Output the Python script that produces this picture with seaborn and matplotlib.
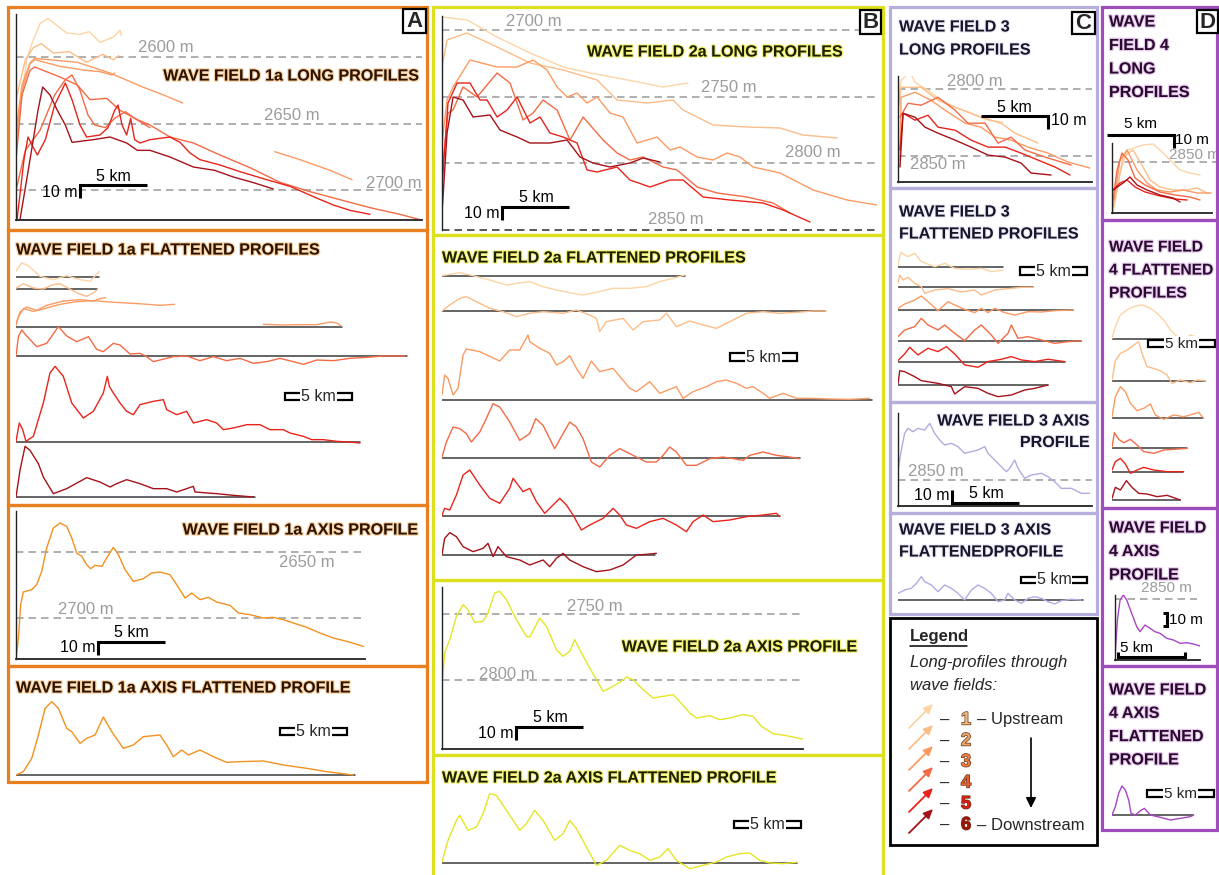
import numpy as np
import matplotlib
matplotlib.use("Agg")
import matplotlib.pyplot as plt
import matplotlib.patheffects as pe
from matplotlib.patches import Rectangle
import seaborn as sns

# ------------------------------------------------------------------ data
# colour rank of a long-profile: 0 = most upstream ... 5 = most downstream
RANK_COLORS = ["#FDD4A4", "#FCBD88", "#FB9B63", "#F46A45", "#E8241C", "#A6121A"]
NUMBER_COLORS = ["#E9BC80", "#EBA56A", "#E9824A", "#E25E33", "#D81E16", "#A3130F"]

# Wave field 1a - long profiles (distance km, depth m)
wf1a_long_rank = [0, 1, 2, 2, 2, 3, 3, 4, 5]
wf1a_long_km = [
    [0, 0.3, 0.8, 1.3, 1.8, 2.4, 2.9, 3.8, 4.8, 5.5, 6.3, 7.3, 7.8, 7.9],
    [0, 0.7, 1.3, 1.9, 2.8, 4.0, 5.3, 6.5, 7.3, 7.7],
    [0, 0.45, 1.05, 1.4, 4.6, 7.05, 9.5, 11.2, 12.5],
    [19.4, 21.3, 23.55, 25.2],
    [0, 0.45, 1.05, 1.4, 3.3, 5.2, 6.3, 7.2, 7.4],
    [0, 0.45, 1.05, 1.4, 3.3, 4.6, 5.55, 6.8, 7.8, 9.1, 10.05, 11.55, 13.3, 15.3,
     17.55, 19.8, 22.05, 24.3, 26.55, 28.8, 30.3],
    [0, 0.7, 1.8, 2.9, 3.7, 4.2, 4.8, 5.4, 5.9, 6.7, 7.4, 8.2, 8.9, 10.05],
    [0.08, 0.6, 0.9, 1.2, 1.6, 2.2, 2.9, 3.7, 4.2, 4.8, 5.3, 6.3, 6.9, 7.4, 7.65, 7.95,
     8.3, 8.6, 8.9, 9.3, 10.05, 10.8, 11.55, 12.3, 13.05, 13.8, 15.3, 16.8, 18.8, 20.55,
     22.6, 23.8, 25.05, 26.55],
    [0.3, 1.05, 1.65, 2.0, 2.55, 3.1, 3.7, 4.2, 5.8, 7.05, 8.3, 9.1, 10.05, 11.55, 13.3,
     14.9, 16.3, 17.9, 19.3],
]
wf1a_long_depth = [
    [2668, 2640, 2602, 2587, 2575, 2571, 2575, 2582, 2583, 2581, 2589, 2585, 2580, 2584],
    [2632, 2602, 2593, 2590, 2597, 2596, 2604, 2598, 2602, 2599],
    [2655, 2621, 2604.5, 2601, 2604, 2612, 2622.5, 2629, 2634.5],
    [2671, 2677, 2685, 2692],
    [2662, 2625, 2605, 2602, 2607, 2610, 2611, 2613.5, 2612],
    [2677, 2628.5, 2610, 2607.5, 2615, 2621, 2632, 2631, 2640, 2647, 2651, 2660, 2664.5,
     2673.5, 2683, 2694, 2701, 2707, 2713, 2718, 2722],
    [2700, 2670, 2655, 2628.5, 2617, 2613.5, 2625, 2643.5, 2651, 2653, 2646, 2641, 2646, 2653],
    [2722, 2677, 2660, 2666, 2673.5, 2662, 2636, 2619.5, 2632, 2651, 2660, 2658.5, 2653,
     2640, 2636, 2651, 2658.5, 2646, 2662, 2664.5, 2662, 2661, 2660, 2664, 2672, 2677,
     2681, 2686, 2692, 2697, 2706, 2711, 2715, 2718],
    [2722, 2677, 2640, 2622.5, 2628.5, 2640, 2651, 2664, 2662, 2660, 2664.5, 2670, 2670,
     2675, 2682.5, 2685, 2690, 2694.5, 2699],
]

# Wave field 1a - flattened profiles (distance km, relief m about the trend line)
wf1a_flat_rank = [0, 1, 2, 2, 2, 3, 4, 5]
wf1a_flat_row = [0, 1, 2, 2, 2, 3, 4, 5]
wf1a_flat_len_km = [6.2, 6.05, 24.45, 29.3, 25.8, 17.9]
wf1a_flat_km = [
    [0, 0.43, 0.93, 1.8, 2.8, 3.8, 4.8, 5.55, 5.9, 6.25],
    [0, 0.55, 1.3, 2.05, 2.7, 3.3, 3.9, 4.7, 5.3, 5.8, 6.1],
    [0, 0.18, 0.55, 1.3, 2.05, 3.3, 4.55, 5.8, 7.05, 8.3, 9.55, 10.8, 11.9],
    [18.55, 20.05, 21.3, 22.55, 23.55, 24.05, 24.4],
    [0, 0.3, 0.8, 1.55, 2.3, 3.55, 4.8, 5.8, 6.3, 6.7],
    [0, 0.18, 0.43, 0.8, 1.55, 2.3, 3.18, 3.8, 4.55, 5.43, 6.05, 6.55, 7.3, 7.8, 8.55, 9.3,
     9.8, 10.3, 10.8, 11.8, 12.8, 13.8, 14.8, 15.8, 16.8, 17.8, 18.8, 19.8, 20.8, 21.55,
     22.55, 23.8, 25.05, 26.3, 27.55, 29.2],
    [0, 0.25, 0.5, 0.75, 1.3, 2.05, 2.55, 2.93, 3.55, 4.18, 5.05, 5.8, 6.55, 6.85, 7.0,
     7.3, 7.8, 8.3, 8.8, 9.3, 9.8, 10.3, 11.05, 11.3, 12.05, 12.8, 13.3, 14.3, 15.05,
     15.55, 16.3, 17.3, 18.3, 19.05, 20.05, 20.55, 21.55, 22.18, 23.05, 24.05, 24.93, 25.8],
    [0, 0.3, 0.68, 1.05, 1.68, 2.05, 2.8, 3.8, 5.3, 6.3, 7.05, 7.55, 8.3, 9.3, 10.3, 11.3,
     12.05, 12.8, 13.3, 13.43, 15.05, 16.3, 17.8],
]
wf1a_flat_relief = [
    [4.25, 10.5, 8.5, 0.5, -2, 1, -2, -3.25, 0.5, 4.25],
    [0.5, 4, 0.75, 0, 3, 4, 0.75, -3.5, -5.5, -3, -0.5],
    [1.25, 7.5, 13.75, 11.75, 13.5, 17, 19, 19.75, 18.75, 18, 17.25, 16.25, 17],
    [2, 1.5, 1.75, 1.75, 3.75, 3, 0.75],
    [2.5, 11.25, 15, 12.5, 16.25, 19.5, 20.5, 19.5, 21.25, 22],
    [0, 14.5, 19.5, 15, 7, 9.5, 22, 15, 10.75, 14.5, 5, 3.25, 9.5, 8.25, 1.5, 2, -0.5,
     -4.25, -3, -0.5, 0, -3.5, -0.5, -3.5, -1.75, -5.5, -4.25, -1.75, -4.25, -6.25, -3,
     -3.5, -1.75, -1, 0, 0],
    [0.5, 14.25, 9.25, 0.5, 4.25, 29.25, 51.75, 56.75, 49.25, 29.25, 18, 23, 36.75, 49.25,
     41.75, 36.75, 29.25, 23, 20.5, 28, 29.25, 30.5, 31.75, 24.25, 20.5, 23, 14.25, 16.75,
     14.25, 9.25, 10.5, 13, 13, 9.25, 9.25, 6.75, 4.25, 1.75, 1.75, 0.5, 0, -0.75],
    [0, 20, 38, 35, 25, 15, 2.5, 6.25, 14.5, 11.25, 7.5, 10, 13, 10, 6.25, 6.25, 3.75,
     6.25, 8, 3.75, 2.5, 1.25, 0],
]

# Wave field 1a - axis profile and its flattened version
wf1a_axis_km = [0, 0.18, 0.35, 0.55, 1.18, 1.55, 1.93, 2.3, 2.8, 3.3, 3.8, 4.18, 4.55, 4.93,
                5.3, 5.6, 5.93, 6.43, 6.8, 7.3, 7.68, 8.18, 8.8, 9.55, 10.18, 10.8, 11.55,
                12.05, 12.68, 13.18, 13.8, 14.43, 15.05, 16.05, 16.68, 17.55, 18.55, 19.3,
                20.05, 20.8, 21.8, 22.8, 23.8, 24.8, 26.05]
wf1a_axis_depth = [2730.5, 2714.75, 2689.75, 2680.25, 2678.5, 2674.75, 2664.75, 2647.25,
                   2632.25, 2628.5, 2631, 2639.75, 2651, 2653.5, 2659.75, 2662.75, 2660.25,
                   2661, 2654.75, 2646.75, 2652.25, 2663.5, 2672.25, 2670.25, 2666, 2665.25,
                   2667.25, 2674.75, 2684.75, 2681, 2686, 2684.25, 2687.75, 2690.25, 2696,
                   2697.25, 2699.75, 2699.25, 2701, 2703.5, 2706.75, 2711, 2714.75, 2717.25,
                   2721]
wf1a_axis_flat_km = [0, 0.55, 1.18, 1.68, 2.18, 2.68, 3.18, 3.8, 4.18, 4.8, 5.3, 5.93, 6.55,
                     7.18, 8.05, 8.8, 9.55, 10.8, 11.3, 11.8, 12.43, 12.93, 13.8, 14.8, 15.8,
                     16.8, 18.55, 20.05, 21.8, 23.3, 25.3]
wf1a_axis_flat_relief = [0, 2.5, 12.5, 30, 50, 55, 50, 35, 32.5, 23.75, 27.5, 30, 43.5, 32.5,
                         20, 22.5, 28.75, 30, 22.5, 13.75, 18.75, 15, 18.75, 13.75, 9.5, 10,
                         10.5, 7.5, 5, 2.5, 0]

# Wave field 2a - long profiles
wf2a_long_rank = [0, 1, 2, 3, 4, 5]
wf2a_long_km = [
    [0, 1.88, 4.13, 6.6, 9.08, 11.1, 13.13, 15.08, 16.58, 18.45],
    [0, 0.38, 1.88, 4.13, 6.6, 9.08, 11.63, 13.13, 15.38, 17.33, 18.08, 20.33, 22.88, 25.35,
     27.08, 29.63],
    [0, 0.38, 0.83, 2.1, 4.13, 5.63, 6.83, 7.88, 8.63, 9.38, 10.13, 10.88, 11.63, 12.6,
     13.58, 14.63, 16.13, 17.1, 17.85, 19.13, 20.33, 21.38, 22.35, 23.33, 25.35, 27.83,
     30.38, 32.63],
    [0, 0.45, 0.83, 1.58, 2.63, 4.13, 5.1, 6.08, 6.83, 7.58, 8.63, 9.6, 10.58, 12.08, 13.13,
     14.1, 15.08, 16.58, 17.63, 19.13, 20.63, 22.88, 24.83, 26.1],
    [0, 0.45, 1.13, 2.1, 2.85, 3.38, 4.13, 4.88, 5.63, 6.6, 7.35, 8.1, 9.08, 10.13, 10.88,
     11.63, 13.13, 14.1, 15.6, 17.1, 18.08, 19.58, 21.6, 24.08, 25.58, 27.6],
    [0, 0.38, 0.83, 1.58, 2.33, 3.6, 4.35, 5.63, 6.6, 8.1, 9.38, 10.35, 11.33, 12.6, 14.1,
     15.08, 16.35],
]
wf2a_long_depth = [
    [2690.25, 2692.5, 2705.25, 2717.25, 2727.75, 2732.25, 2736, 2739.75, 2742.75, 2739.75],
    [2727.75, 2707.5, 2702.25, 2712.75, 2724.75, 2730, 2737.5, 2752.5, 2754.75, 2752.5,
     2760, 2771.25, 2772.75, 2773.5, 2778.75, 2781],
    [2784.75, 2752.5, 2742.75, 2722.5, 2727.75, 2727.75, 2722.5, 2730, 2742.75, 2750.25,
     2747.25, 2754.75, 2750.25, 2762.25, 2765.25, 2784.75, 2780.25, 2790, 2787.75, 2795.25,
     2797.5, 2792.25, 2795.25, 2802.75, 2807.25, 2820, 2827.5, 2831.25],
    [2807.25, 2762.25, 2760, 2742.75, 2750.25, 2732.25, 2739.75, 2767.5, 2762.25, 2752.5,
     2760, 2782.5, 2765.25, 2782.5, 2792.25, 2797.5, 2795.25, 2802.75, 2805, 2817.75,
     2822.25, 2825.25, 2829.75, 2837.25],
    [2817.75, 2754.75, 2739.75, 2739.75, 2752.5, 2752.5, 2765.25, 2760, 2750.25, 2769.75,
     2765.25, 2777.25, 2780.25, 2784.75, 2805, 2806.5, 2802.75, 2812.5, 2817.75, 2812.5,
     2812.5, 2825.25, 2827.5, 2829.75, 2835, 2844],
    [2837.25, 2777.25, 2750.25, 2752.5, 2765.25, 2763.75, 2775, 2780.25, 2784.75, 2784.75,
     2782.5, 2795.25, 2799.75, 2802.75, 2799.75, 2796, 2799],
]

# Wave field 2a - flattened profiles
wf2a_flat_len_km = [18.2, 28.7, 32.25, 26.85, 25.35, 16.0]
wf2a_flat_km = [
    [0, 0.58, 1.33, 2.33, 3.58, 4.83, 5.58, 6.58, 7.58, 8.58, 9.83, 10.58, 11.58, 12.83,
     14.08, 15.33, 16.33, 17.33, 18.2],
    [0, 0.58, 1.33, 1.83, 2.58, 3.58, 4.58, 5.58, 6.58, 7.58, 9.08, 10.08, 11.08, 11.58,
     11.83, 12.33, 13.58, 14.33, 15.08, 16.33, 16.83, 17.58, 18.58, 19.58, 20.58, 21.58,
     22.83, 24.08, 25.33, 26.58, 27.83, 28.83],
    [0, 0.2, 0.45, 0.83, 1.2, 1.58, 1.83, 2.83, 4.33, 5.08, 5.83, 6.45, 6.58, 7.33, 8.08,
     8.58, 9.08, 9.58, 10.08, 10.58, 11.2, 11.83, 12.83, 14.08, 14.58, 15.58, 16.33, 17.58,
     18.08, 18.83, 19.83, 20.58, 21.33, 22.08, 22.83, 23.33, 24.08, 24.58, 25.58, 26.58,
     27.83, 29.08, 30.58, 32.08],
    [0, 0.33, 0.83, 1.33, 1.83, 2.2, 2.83, 3.2, 3.83, 4.33, 5.08, 5.83, 6.58, 7.03, 7.58,
     8.45, 9.08, 9.58, 10.08, 10.58, 11.2, 11.83, 12.58, 13.33, 14.33, 15.33, 16.08, 16.58,
     17.08, 17.58, 18.33, 19.08, 20.08, 21.08, 22.58, 23.08, 24.08, 25.08, 26.08, 26.83],
    [0, 0.2, 0.58, 1.08, 1.58, 2.08, 2.83, 3.58, 4.33, 5.08, 5.33, 6.08, 6.58, 7.08, 7.7,
     8.33, 8.83, 9.33, 9.83, 10.45, 11.08, 12.08, 12.83, 13.33, 13.83, 14.58, 15.58, 16.58,
     17.58, 18.33, 18.83, 19.58, 20.33, 21.58, 22.83, 24.08, 25.08, 25.33],
    [0, 0.2, 0.58, 1.08, 1.58, 2.33, 3.08, 3.45, 3.83, 4.2, 4.83, 5.83, 6.58, 7.58, 8.08,
     8.58, 9.08, 9.58, 10.58, 11.58, 12.58, 13.58, 14.58, 15.33, 16.08],
]
wf2a_flat_relief = [
    [0.25, 1.25, 2.5, 0.25, -3, -6.75, -5.5, -4.25, -8, -10.5, -13, -14.25, -12.25, -9.25,
     -9.25, -8, -4.25, -1.75, 0.75],
    [0, 4.5, 9.5, 10.75, 7, 2, -0.5, -4.25, -1.75, -0.5, -1.75, 0.75, -3, -5.5, -15.5, -8,
     -5.5, -14.25, -8, -6.75, -1.75, -11.75, -7.5, -10.5, -13, -8, -1.75, -0.5, -1.75, -1,
     0, 0],
    [3.75, 18.75, 16.25, 3.75, 8.75, 33.75, 38.25, 36.25, 29.25, 37.5, 37.5, 48.75, 43.75,
     38.75, 35, 26.25, 28.75, 33.25, 23.75, 16.25, 29.25, 21.25, 23.75, 8.75, 6.25, 13.75,
     5, 10, 1.25, 6.25, 10, 13.75, 15, 12.5, 8.75, 10, 5, 1.25, 5, 1.25, 1.25, 0.75, 0.5,
     1.25],
    [0.75, 12, 23.25, 22, 18.25, 12, 19.5, 27, 40.75, 38.25, 27, 13.25, 18.25, 29.5, 24.5,
     7, 18.25, 27, 23.25, 14.5, -3, -6.75, 2, 7, 2, -3, -3, 2, 8.25, 4.5, -5.5, -5.5, -0.5,
     0.75, -1.75, 2, 4.5, 2, 0.75, -0.5],
    [0.75, 5.75, 4.5, 15.75, 30.75, 34.5, 23.25, 13.25, 9.5, 20.75, 28.25, 18.25, 20.75,
     10.75, 2, 8.25, 13.25, 8.25, 0.75, -10.5, -6.75, -1.75, 5.75, 0.75, -6.75, -9.25,
     -4.25, -1.75, -6.75, -11.75, -4.25, 0.75, -4.25, -3, -0.5, 0.75, 2, -0.5],
    [0.5, 12.5, 16.75, 13.75, 6.25, 2.5, 5, 8.75, -1.25, 6.25, -1.25, -3.75, -7.5, -3.75,
     -8.75, -2.5, 1.25, -3.75, -8.75, -12.5, -11.25, -7.5, 0, 0.5, 1.25],
]

# Wave field 2a - axis profile and its flattened version
wf2a_axis_km = [0, 0.2, 0.58, 1.08, 1.58, 1.95, 2.45, 3.08, 3.45, 3.95, 4.33, 4.83, 5.58,
                6.33, 6.58, 7.33, 7.83, 8.58, 9.08, 9.58, 9.95, 10.33, 11.08, 12.08, 12.83,
                13.45, 13.83, 14.33, 15.08, 15.83, 16.58, 17.33, 17.7, 18.58, 19.08, 20.08,
                20.83, 21.58, 22.58, 23.33, 23.95, 24.83, 25.83, 27.03]
wf2a_axis_depth = [2804.5, 2779.5, 2769.5, 2752, 2743.25, 2747, 2756.5, 2755.75, 2749.5,
                   2734.5, 2733.25, 2739.5, 2754.5, 2767, 2767.5, 2753.25, 2759.5, 2777,
                   2782, 2778.25, 2769.5, 2777, 2790.75, 2808.25, 2804.5, 2800.75, 2797.5,
                   2799.5, 2807, 2813.25, 2812, 2810.75, 2814.5, 2824.5, 2828.25, 2826.5,
                   2829.5, 2828.25, 2825.75, 2827, 2834.5, 2840, 2841.5, 2844]
wf2a_axis_flat_km = [0, 0.45, 1.08, 1.33, 1.95, 2.58, 3.08, 3.58, 4.08, 4.83, 5.83, 6.33,
                     6.95, 7.58, 8.45, 9.08, 9.58, 10.08, 10.83, 11.58, 12.33, 13.33, 14.08,
                     14.83, 15.58, 16.33, 16.95, 17.58, 18.58, 19.58, 20.58, 21.33, 22.33,
                     23.08, 23.83, 24.58, 25.58, 26.58]
wf2a_axis_flat_relief = [0.75, 17, 32, 35.75, 24.5, 27, 37, 52, 50.75, 39.5, 24.5, 29.5,
                         39.5, 32, 17, 22, 32, 25.75, 12, -1.75, 2, 13.25, 9.5, 7, 2, 4.5,
                         10.75, 2, -4.25, -1.75, 0.75, 4.5, 7, 7.5, 2, 0, -0.5, 0.5]

# Wave field 3 - long profiles
wf3_long_km = [
    [0, 0.23, 0.9, 1.28, 2.25, 3.23, 4.28, 5.48, 6.75, 7.88],
    [0, 0.23, 1.73, 3, 4.28, 6.23, 7.73, 8.78, 10.5],
    [0.15, 0.23, 1.28, 2.48, 3.53, 5.03, 6.23, 7.28, 8.48, 9.75, 11.25, 12.75, 14.4],
    [0.15, 0.75, 1.73, 3, 4.28, 5.25, 6.53, 7.5, 8.48, 9.53, 11.03, 12.98],
    [0.15, 0.38, 1.28, 2.25, 3, 4.28, 5.48, 6.75, 8.03, 9.23, 10.5, 11.78, 12.9],
    [0.15, 0.38, 1.28, 2.03, 3, 4.28, 5.48, 6.75, 8.03, 9.23, 9.98, 11.48],
]
wf3_long_depth = [
    [2808.25, 2793.25, 2787.25, 2794.75, 2800.75, 2808.25, 2813.5, 2818, 2823.25, 2824.75],
    [2815.75, 2798.5, 2798.5, 2808.25, 2813.5, 2821, 2825.5, 2833, 2840.5],
    [2853.25, 2806, 2802.25, 2808.25, 2815.75, 2825.5, 2828.5, 2836, 2838.25, 2843.5, 2848,
     2854.75, 2859.25],
    [2821, 2810.5, 2812, 2806, 2815.75, 2825.5, 2825.5, 2840.5, 2836, 2845.75, 2851, 2857],
    [2845.75, 2818, 2823.25, 2819.5, 2828.5, 2830.75, 2838.25, 2843.5, 2843.5, 2848,
     2853.25, 2858.5, 2864.5],
    [2858.5, 2818, 2821, 2828.5, 2833, 2838.25, 2843.5, 2849.5, 2851, 2855.5, 2863, 2864.5],
]

# Wave field 3 - flattened profiles
wf3_flat_len_km = [7.9, 10.1, 13.1, 13.7, 12.5, 11.25]
wf3_flat_km = [
    [0, 0.2, 0.75, 1.25, 1.75, 2.75, 3.5, 4.25, 5.25, 6.25, 7.0, 7.88],
    [0, 0.13, 0.38, 0.75, 1.25, 1.75, 2.0, 2.75, 3.75, 4.75, 5.75, 6.25, 7.25, 8.25, 9.25,
     10.13],
    [0, 0.5, 1.25, 1.75, 2.25, 3.0, 3.75, 4.25, 5.0, 5.75, 6.25, 6.75, 7.25, 8.0, 8.75,
     9.75, 10.75, 11.75, 13.13],
    [0, 0.5, 1.25, 1.75, 2.25, 3.0, 3.5, 4.25, 5.0, 5.75, 6.25, 7.0, 7.5, 8.25, 8.5, 9.0,
     9.75, 10.75, 11.75, 12.75, 13.75],
    [0, 0.5, 0.88, 1.5, 2.25, 3.0, 3.63, 4.25, 5.0, 6.0, 6.75, 7.75, 8.5, 9.25, 10.25,
     11.25, 12.5],
    [0, 0.13, 0.5, 1.25, 1.75, 3.0, 4.0, 4.25, 5.0, 6.0, 6.75, 7.5, 8.5, 9.5, 10.25, 11.25],
]
wf3_flat_relief = [
    [1.25, 10.75, 7.5, 10, 3.75, 0, 2.5, -1.25, -2, -1.25, -3.75, -2.5],
    [3, 9.25, 5.5, 7.5, 3, 0.5, -4.5, -2, -1, -3.5, -2, -5.75, -2, -1, 0, 0],
    [1.25, 4.5, 7.5, 10.5, 6.25, -0.5, 6.25, 3.75, 0.5, -2, 1.25, -2, 1.25, -2, -3.75,
     -1.25, -1.5, -0.5, 0],
    [3, 8, 10.5, 16.75, 11.75, 8, 11.75, 5.5, 0, 8, 11.75, 4.25, -2, 5.5, 11.75, 1.75, 3,
     0.5, -2, -0.75, 0],
    [1.25, 6.25, 11.25, 5.5, 10.5, 8, 11.75, 6.25, -2, -3.75, 0.5, 2.25, 4.25, 1.75, 0.5,
     2.25, 0.5],
    [0.75, 10.75, 10, 6.25, 3.25, 1.25, -1.25, -6.75, -1.25, -2.5, -6.25, -8.75, -7.5,
     -3.75, -2.5, 0],
]

# Wave field 3 - axis profile and its flattened version
wf3_axis_km = [0, 0.25, 0.5, 0.75, 1.13, 1.5, 2.0, 2.38, 2.75, 3.13, 3.5, 4.0, 4.5, 5.0,
               5.5, 6.0, 6.5, 6.75, 7.25, 7.75, 8.13, 8.38, 8.75, 9.0, 9.5, 10.0, 10.75,
               11.25, 11.75, 12.25, 13.0, 13.75, 14.38]
wf3_axis_depth = [2842.5, 2827.5, 2815, 2811.25, 2813.75, 2811.25, 2812.5, 2807.5, 2815,
                  2820, 2823.75, 2822.5, 2825, 2830, 2828.75, 2827.5, 2825, 2830, 2835, 2840,
                  2843.75, 2841.25, 2835, 2841.25, 2848.75, 2846.25, 2845, 2847.5, 2851.25,
                  2856.25, 2856.25, 2860, 2860]
wf3_axis_flat_km = [0, 0.5, 1.0, 1.38, 1.75, 2.0, 2.5, 3.0, 3.5, 4.0, 4.5, 5.0, 5.5, 6.0,
                    6.5, 7.0, 7.5, 8.0, 8.25, 8.75, 9.25, 9.75, 10.25, 10.75, 11.25, 11.75,
                    12.25, 13.0, 13.75]
wf3_axis_flat_relief = [5, 7.5, 8.75, 12.5, 17.5, 13.75, 11.25, 6.25, 11.25, 8.75, 5, 0,
                        7.5, 11.25, 8.75, 5, -1.25, 0, 5, 0, -2.5, 1.25, 2.5, 1.25, -1.25,
                        -3, -0.5, 0.5, 0]

# Wave field 4 - long profiles
wf4_long_km = [
    [0.08, 0.6, 1.13, 1.88, 2.33, 3.08, 3.6, 4.35, 5.1, 5.85, 6.6],
    [0.23, 0.83, 1.58, 2.33, 2.85, 3.6, 4.58, 5.63, 6.38, 7.13, 7.5],
    [0.08, 0.6, 1.13, 1.88, 2.63, 3.38, 4.35, 5.33, 6.38, 7.35],
    [0.08, 0.38, 0.75, 1.2, 1.73, 2.48, 3.6, 4.73, 5.85, 6.6],
    [0.08, 0.6, 1.13, 1.73, 2.48, 3.6, 4.73, 5.63],
    [0.08, 0.83, 1.35, 1.88, 2.63, 3.6, 4.58, 5.1],
]
wf4_long_depth = [
    [2888.25, 2858.25, 2841, 2838.75, 2837.25, 2836.5, 2841, 2848.5, 2856, 2858.25, 2859.75],
    [2878.5, 2846.25, 2841, 2853.75, 2863.5, 2868.75, 2871, 2871, 2869.5, 2873.25, 2873.25],
    [2883.75, 2848.5, 2841, 2856, 2865.75, 2871, 2872.5, 2871, 2873.25, 2873.25],
    [2878.5, 2856, 2843.25, 2848.5, 2862, 2867.25, 2872.5, 2874.75, 2876.25, 2878.5],
    [2871, 2865.75, 2863.5, 2868.75, 2872.5, 2875.5, 2877.75, 2878.5],
    [2871, 2865.75, 2861.25, 2867.25, 2871, 2874.75, 2877, 2880],
]

# Wave field 4 - flattened profiles
wf4_flat_len_km = [6.4, 7.0, 6.8, 5.6, 5.3, 5.1]
wf4_flat_km = [
    [0, 0.25, 0.63, 1.13, 1.63, 2.25, 2.88, 3.38, 3.88, 4.38, 4.88, 5.38, 5.88, 6.38],
    [0, 0.25, 0.63, 1.13, 1.63, 2.0, 2.25, 2.63, 3.13, 3.63, 4.13, 4.5, 5.13, 5.88, 6.38, 7.0],
    [0, 0.25, 0.63, 1.0, 1.38, 1.88, 2.38, 2.88, 3.25, 3.88, 4.63, 5.38, 6.13, 6.5, 6.88],
    [0, 0.18, 0.5, 0.88, 1.38, 1.88, 2.38, 3.13, 3.88, 4.63, 5.63],
    [0, 0.25, 0.63, 1.0, 1.38, 1.88, 2.38, 3.13, 4.13, 5.38],
    [0, 0.25, 0.63, 1.08, 1.5, 2.0, 2.63, 3.38, 4.13, 5.13],
]
wf4_flat_relief = [
    [0.5, 9.5, 18.25, 22, 24.5, 25.75, 23.25, 19.5, 14.5, 7, 2, -0.5, 3.25, 1.5],
    [0.5, 15, 20.5, 23, 26.75, 29.25, 20.5, 10.5, 9.25, 7.5, 4.25, -2, 0.5, -1.5, 0.5, 0],
    [0.75, 16.25, 23.75, 20, 11.25, 5.75, 7.5, 10.75, 2.5, -0.75, 2.5, 1.25, 3.25, 4.5, 0],
    [0.75, 11.75, 6.75, 4.25, 6.75, 2.5, -2.5, -3.75, -1.25, -0.75, 0],
    [1.25, 7.5, 10, 5.75, -1.25, 1.25, 3.25, 1.25, 0, 0],
    [1.25, 9.5, 7.5, 14.5, 9.5, 5, 4.5, 2.5, 3.5, 0],
]

# Wave field 4 - axis profile and its flattened version
wf4_axis_km = [0, 0.18, 0.38, 0.63, 0.88, 1.25, 1.63, 1.88, 2.25, 2.63, 3.0, 3.38, 3.88,
               4.38, 4.88, 5.38, 5.88, 6.38]
wf4_axis_depth = [2893.25, 2865.75, 2850.75, 2847, 2850.75, 2860.75, 2870.75, 2874.5,
                  2869.5, 2872, 2874.5, 2875.75, 2879.5, 2880.75, 2883.25, 2882.75,
                  2883.75, 2885.25]
wf4_axis_flat_km = [0, 0.25, 0.5, 0.75, 1.0, 1.25, 1.43, 1.75, 2.13, 2.43, 2.88, 3.63,
                    4.38, 5.13, 5.88, 6.13]
wf4_axis_flat_relief = [0, 6.25, 16.25, 21.75, 18.75, 11.25, 1.25, 0, 3.25, 5, 0, -1.75,
                        -3.75, -2.5, -1.25, 0]

# ------------------------------------------------------------------ style
sns.set_style("white")
plt.rcParams["font.family"] = ["Liberation Sans", "DejaVu Sans"]

W, H = 1219, 875
KM_PER_PX = 0.075    # 13.3 px per km in every panel
M_PER_PX = 0.75      # 1.33 px per metre in every panel
TITLE_SIZE = 11.6

ORANGE, YELLOW, LAVENDER, PURPLE = "#E8801F", "#DCE01E", "#B8AEDC", "#9E4DBA"
AXIS_ORANGE, AXIS_YELLOW, AXIS_LAVENDER, AXIS_PURPLE = "#F2911F", "#E4E626", "#B6A9E2", "#A646C2"
REF_GREY = "#a2a2a2"

fig = plt.figure(figsize=(W / 100, H / 100), dpi=100)
fig.patch.set_facecolor("white")


def fpos(x, y):
    return x / W, 1 - y / H


def box_axes(l, t, r, b):
    ax = fig.add_axes([l / W, 1 - b / H, (r - l) / W, (b - t) / H])
    ax.patch.set_alpha(0)
    return ax


def long_axes(l, t, r, b, depth_bottom, ticks):
    ax = box_axes(l, t, r, b)
    ax.set_xlim(0, (r - l) * KM_PER_PX)
    ax.set_ylim(depth_bottom, depth_bottom - (b - t) * M_PER_PX)
    ax.spines[["top", "right"]].set_visible(False)
    ax.spines["left"].set(color="#222222", linewidth=1.0)
    ax.spines["bottom"].set(color="#222222", linewidth=1.3)
    ax.set_xticks([])
    ax.set_yticks(ticks)
    ax.set_yticklabels([])
    ax.tick_params(axis="y", length=4, width=0.9, direction="inout", colors="#222222")
    return ax


def flat_axes(l, t, r, b):
    ax = box_axes(l, t, r, b)
    ax.set_xlim(0, (r - l) * KM_PER_PX)
    ax.set_ylim(0, (b - t) * M_PER_PX)
    ax.set_axis_off()
    return ax


def trace(ax, x, y, color, lw=1.0):
    sns.lineplot(x=np.asarray(x, float), y=np.asarray(y, float), ax=ax, color=color,
                 linewidth=lw, sort=False, estimator=None, legend=False, zorder=2)
    ax.set_xlabel("")
    ax.set_ylabel("")


def ref_line(ax, depth, x_end, color=REF_GREY):
    ax.plot([0, x_end], [depth, depth], color=color, lw=1.2, ls=(0, (4.5, 3)),
            clip_on=False, zorder=1)


def ref_label(ax, x, d, s, size=12):
    ax.text(x, d, s, color="#9c9c9c", fontsize=size, ha="center", va="center", zorder=3)


def bar(ax, xs, ys):
    ax.plot(xs, ys, color="black", lw=2.2, clip_on=False, zorder=4,
            solid_capstyle="butt", solid_joinstyle="miter")


def note(ax, x, y, s, ha="center", size=11.5):
    ax.text(x, y, s, fontsize=size, ha=ha, va="center", color="black", zorder=4)


def boxed_scale(ax, x0, y0, h, size=11.5):
    ax.add_patch(Rectangle((x0, y0), 5.0, h, fill=False, ec="black", lw=1.6,
                           clip_on=False, zorder=4))
    ax.text(x0 + 2.5, y0 + h / 2, "5 km", ha="center", va="center", fontsize=size,
            zorder=5, bbox=dict(boxstyle="square,pad=0.05", fc="white", ec="none"))


def draw_long(ax, kms, depths, ranks):
    for x, d, rk in zip(kms, depths, ranks):
        trace(ax, x, d, RANK_COLORS[rk])


def draw_flat(ax, kms, reliefs, ranks, rows, bases, lengths):
    for base, ln in zip(bases, lengths):
        ax.plot([0, ln], [base, base], color="#3a3a3a", lw=1.1, zorder=1)
    for x, r, rk, row in zip(kms, reliefs, ranks, rows):
        trace(ax, x, np.asarray(r, float) + bases[row], RANK_COLORS[rk])


def title(lines, x, y0, ha, color, halo, step=23.3, size=TITLE_SIZE):
    for i, s in enumerate(lines):
        fig.text(*fpos(x, y0 + i * step), s, ha=ha, va="center", fontsize=size,
                 fontweight="bold", color=color,
                 path_effects=[pe.withStroke(linewidth=1.8, foreground=halo, alpha=0.8)])


def frame(l, t, r, b, color, lw=2.2):
    fig.add_artist(Rectangle(fpos(l, b), (r - l) / W, (b - t) / H,
                             transform=fig.transFigure, fill=False, ec=color, lw=lw,
                             zorder=10))


def letter(s, l, t, r, b):
    fig.add_artist(Rectangle(fpos(l, b), (r - l) / W, (b - t) / H,
                             transform=fig.transFigure, fc="white", ec="black", lw=1.6,
                             zorder=11))
    fig.text(*fpos((l + r) / 2, (t + b) / 2 + 0.5), s, ha="center", va="center",
             fontsize=16, fontweight="bold", zorder=12)


six = list(range(6))

# ------------------------------------------------------------------ panel A
ax = long_axes(16, 14, 422, 220, 2722.25, np.arange(2570, 2721, 10))
for d in (2600, 2650, 2700):
    ref_line(ax, d, 30.45)
ref_label(ax, 11.25, 2593, "2600 m")
ref_label(ax, 20.7, 2644, "2650 m")
ref_label(ax, 28.3, 2695, "2700 m")
draw_long(ax, wf1a_long_km, wf1a_long_depth, wf1a_long_rank)
bar(ax, [9.8, 4.8, 4.8], [2696, 2696, 2706])
note(ax, 7.28, 2689.5, "5 km")
note(ax, 4.6, 2701.5, "10 m", ha="right")

ax = flat_axes(16, 255, 422, 503)
draw_flat(ax, wf1a_flat_km, wf1a_flat_relief, wf1a_flat_rank, wf1a_flat_row,
          [169.5, 160.5, 132, 110.25, 45.75, 4.5], wf1a_flat_len_km)
boxed_scale(ax, 20.2, 77.25, 5.25)

ax = long_axes(16, 511, 365, 659, 2730.5, np.arange(2620, 2721, 10))
ref_line(ax, 2650, 26.2)
ref_line(ax, 2700, 26.2)
ref_label(ax, 21.8, 2658.25, "2650 m")
ref_label(ax, 5.25, 2693.5, "2700 m")
trace(ax, wf1a_axis_km, wf1a_axis_depth, AXIS_ORANGE)
bar(ax, [11.15, 6.15, 6.15], [2717.5, 2717.5, 2727.5])
note(ax, 8.63, 2710.75, "5 km")
note(ax, 6.0, 2722, "10 m", ha="right")

ax = flat_axes(16, 695, 422, 780)
ax.plot([0, 25.4], [3.75, 3.75], color="#3a3a3a", lw=1.1, zorder=1)
trace(ax, wf1a_axis_flat_km, np.asarray(wf1a_axis_flat_relief) + 3.75, AXIS_ORANGE)
boxed_scale(ax, 19.8, 33.75, 5.25)

A_INK, A_HALO = "#2b1300", "#F8C88F"
title(["WAVE FIELD 1a LONG PROFILES"], 420, 76, "right", A_INK, A_HALO)
title(["WAVE FIELD 1a FLATTENED PROFILES"], 16, 250, "left", A_INK, A_HALO)
title(["WAVE FIELD 1a AXIS PROFILE"], 419, 530, "right", A_INK, A_HALO)
title(["WAVE FIELD 1a AXIS FLATTENED PROFILE"], 16, 688, "left", A_INK, A_HALO)
for box in [(8, 7, 427, 230), (8, 230, 427, 505), (8, 505, 427, 666), (8, 666, 427, 782)]:
    frame(*box, ORANGE, lw=2.3)
letter("A", 403, 9, 426, 33)

# ------------------------------------------------------------------ panel B
ax = long_axes(442, 16, 877, 230, 2850, np.arange(2690, 2841, 10))
ax.spines["bottom"].set_visible(False)
for d in (2700, 2750, 2800):
    ref_line(ax, d, 32.6)
ref_line(ax, 2850, 32.6, color="#3c3c3c")
ref_label(ax, 6.9, 2694, "2700 m")
ref_label(ax, 21.5, 2743.5, "2750 m")
ref_label(ax, 27.8, 2792, "2800 m")
ref_label(ax, 17.55, 2842.5, "2850 m")
draw_long(ax, wf2a_long_km, wf2a_long_depth, wf2a_long_rank)
bar(ax, [9.5, 4.5, 4.5], [2832.75, 2832.75, 2842.75])
note(ax, 7.05, 2826, "5 km")
note(ax, 4.3, 2837.5, "10 m", ha="right")

ax = flat_axes(442, 268, 877, 578)
draw_flat(ax, wf2a_flat_km, wf2a_flat_relief, six, six,
          [226.5, 200.25, 133.5, 90, 46.5, 17.25], wf2a_flat_len_km)
boxed_scale(ax, 21.6, 162.75, 6)

ax = long_axes(442, 587, 803, 749, 2851.5, np.arange(2730, 2841, 10))
ref_line(ax, 2750, 27.08)
ref_line(ax, 2800, 27.08)
ref_label(ax, 11.48, 2744.75, "2750 m")
ref_label(ax, 4.88, 2795.75, "2800 m")
trace(ax, wf2a_axis_km, wf2a_axis_depth, AXIS_YELLOW)
bar(ax, [10.55, 5.55, 5.55], [2834.75, 2834.75, 2844.75])
note(ax, 8.1, 2828, "5 km")
note(ax, 5.4, 2840, "10 m", ha="right")

ax = flat_axes(442, 790, 877, 873)
ax.plot([0, 26.6], [7.5, 7.5], color="#3a3a3a", lw=1.1, zorder=1)
trace(ax, wf2a_axis_flat_km, np.asarray(wf2a_axis_flat_relief) + 7.5, AXIS_YELLOW)
boxed_scale(ax, 21.9, 33.75, 5.25)

B_INK, B_HALO = "#1e1e00", "#F0F25A"
title(["WAVE FIELD 2a LONG PROFILES"], 587, 52, "left", B_INK, B_HALO)
title(["WAVE FIELD 2a FLATTENED PROFILES"], 442, 258, "left", B_INK, B_HALO)
title(["WAVE FIELD 2a AXIS PROFILE"], 858, 647, "right", B_INK, B_HALO)
title(["WAVE FIELD 2a AXIS FLATTENED PROFILE"], 442, 778, "left", B_INK, B_HALO)
for box in [(433, 7, 883, 235), (433, 235, 883, 580), (433, 580, 883, 755),
            (433, 755, 883, 878)]:
    frame(*box, YELLOW, lw=2.3)
letter("B", 860, 10, 881, 34)

# ------------------------------------------------------------------ panel C
ax = long_axes(898, 76, 1092, 182, 2869.75, np.arange(2790, 2861, 10))
ref_line(ax, 2800, 14.55)
ref_line(ax, 2850, 14.55)
ref_label(ax, 5.78, 2794, "2800 m")
ref_label(ax, 3.0, 2856.25, "2850 m")
draw_long(ax, wf3_long_km, wf3_long_depth, six)
bar(ax, [6.23, 11.23, 11.23], [2820.25, 2820.25, 2830.25])
note(ax, 8.7, 2813.5, "5 km")
note(ax, 11.45, 2823.5, "10 m", ha="left")

ax = flat_axes(898, 245, 1092, 398)
draw_flat(ax, wf3_flat_km, wf3_flat_relief, six, six,
          [98.5, 83, 66, 43, 26.8, 9.75], wf3_flat_len_km)
boxed_scale(ax, 9.15, 92.25, 6)

ax = long_axes(898, 413, 1092, 506, 2869.5, np.arange(2800, 2861, 10))
ref_line(ax, 2850, 14.55)
ref_label(ax, 2.85, 2844, "2850 m")
trace(ax, wf3_axis_km, wf3_axis_depth, AXIS_LAVENDER)
bar(ax, [4.05, 4.05, 9.05], [2857.25, 2867.25, 2867.25])
note(ax, 6.6, 2859.75, "5 km")
note(ax, 3.83, 2861.25, "10 m", ha="right")

ax = flat_axes(898, 565, 1092, 611)
ax.plot([0, 13.9], [8.25, 8.25], color="#3a3a3a", lw=1.1, zorder=1)
trace(ax, wf3_axis_flat_km, np.asarray(wf3_axis_flat_relief) + 8.25, AXIS_LAVENDER)
boxed_scale(ax, 9.2, 21, 4.5)

C_INK, C_HALO = "#17172a", "#ECE8F8"
title(["WAVE FIELD 3", "LONG PROFILES"], 899, 27, "left", C_INK, C_HALO, step=23)
title(["WAVE FIELD 3", "FLATTENED PROFILES"], 899, 212, "left", C_INK, C_HALO, step=22)
title(["WAVE FIELD 3 AXIS", "PROFILE"], 1090, 421, "right", C_INK, C_HALO, step=21.5)
title(["WAVE FIELD 3 AXIS", "FLATTENEDPROFILE"], 899, 530, "left", C_INK, C_HALO, step=22)
for box in [(890, 7, 1097, 188), (890, 188, 1097, 402), (890, 402, 1097, 513),
            (890, 513, 1097, 614)]:
    frame(*box, LAVENDER, lw=2.3)
letter("C", 1072, 12, 1095, 34)

# legend box
lax = box_axes(890, 618, 1097, 845)
lax.set_xlim(890, 1097)
lax.set_ylim(845, 618)
lax.set_axis_off()
lax.text(910, 637, "Legend", fontsize=12, fontweight="bold", ha="left", va="center")
lax.plot([910, 967], [646, 646], color="black", lw=1.1)
lax.text(910, 663, "Long-profiles through", fontsize=12, style="italic", ha="left",
         va="center")
lax.text(910, 686, "wave fields:", fontsize=12, style="italic", ha="left", va="center")
for i in range(6):
    dy = 21 * i
    lax.annotate("", xy=(933, 704 + dy), xytext=(909, 728 + dy),
                 arrowprops=dict(arrowstyle="-|>,head_length=0.55,head_width=0.25",
                                 color=RANK_COLORS[i], lw=1.3, shrinkA=0, shrinkB=0))
    lax.text(945, 720 + dy, "–", fontsize=12, ha="center", va="center")
    lax.text(966, 720 + dy, str(i + 1), fontsize=13, fontweight="bold", ha="center",
             va="center", color=NUMBER_COLORS[i],
             path_effects=[pe.withStroke(linewidth=1.0, foreground="#6a3010")])
lax.text(977, 720, "– Upstream", fontsize=12, ha="left", va="center")
lax.text(977, 825, "– Downstream", fontsize=12, ha="left", va="center")
lax.annotate("", xy=(1031, 808), xytext=(1031, 738),
             arrowprops=dict(arrowstyle="-|>,head_length=0.6,head_width=0.3",
                             color="black", lw=1.2, shrinkA=0, shrinkB=0))
frame(890, 618, 1097, 845, "black", lw=2.0)

# ------------------------------------------------------------------ panel D
ax = long_axes(1112, 143, 1212, 213, 2888.25, np.arange(2840, 2881, 10))
ref_line(ax, 2850, 7.9)
ref_label(ax, 6.15, 2844.75, "2850 m", size=11)
draw_long(ax, wf4_long_km, wf4_long_depth, six)
bar(ax, [-0.37, 4.63, 4.63], [2829.75, 2829.75, 2839.75])
note(ax, 2.1, 2821.5, "5 km", size=11)
note(ax, 4.75, 2833.5, "10 m", ha="left", size=11)

ax = flat_axes(1112, 300, 1217, 507)
draw_flat(ax, wf4_flat_km, wf4_flat_relief, six, six,
          [125.8, 94.7, 66.5, 44, 26.5, 5.25], wf4_flat_len_km)
boxed_scale(ax, 2.7, 120, 5.25, size=11)

ax = long_axes(1115, 595, 1200, 660, 2895.75, np.arange(2850, 2891, 10))
ref_line(ax, 2850, 6.15)
ref_label(ax, 3.86, 2841.75, "2850 m", size=11)
trace(ax, wf4_axis_km, wf4_axis_depth, AXIS_PURPLE)
bar(ax, [3.6, 3.9, 3.9, 3.6], [2860.5, 2860.5, 2870.5, 2870.5])
note(ax, 4.05, 2865.5, "10 m", ha="left", size=11)
bar(ax, [0.23, 0.23, 5.23, 5.23], [2889.5, 2893.5, 2893.5, 2889.5])
note(ax, 0.35, 2887, "5 km", ha="left", size=11)

ax = flat_axes(1112, 770, 1217, 828)
ax.plot([0, 6.1], [9.75, 9.75], color="#3a3a3a", lw=1.1, zorder=1)
trace(ax, wf4_axis_flat_km, np.asarray(wf4_axis_flat_relief) + 9.75, AXIS_PURPLE)
boxed_scale(ax, 2.63, 23.25, 5.25, size=11)

D_INK, D_HALO = "#2a0a2e", "#E2C0EA"
title(["WAVE", "FIELD 4", "LONG", "PROFILES"], 1109, 22, "left", D_INK, D_HALO, step=23.5)
title(["WAVE FIELD", "4 FLATTENED", "PROFILES"], 1109, 247, "left", D_INK, D_HALO, step=23,
      size=11.2)
title(["WAVE FIELD", "4 AXIS", "PROFILE"], 1109, 528, "left", D_INK, D_HALO, step=23.5)
title(["WAVE FIELD", "4 AXIS", "FLATTENED", "PROFILE"], 1109, 690, "left", D_INK, D_HALO,
      step=23.3)
for box in [(1102, 7, 1217, 220), (1102, 220, 1217, 508), (1102, 508, 1217, 666),
            (1102, 666, 1217, 830)]:
    frame(*box, PURPLE, lw=2.3)
letter("D", 1197, 10, 1218, 33)

fig.savefig("out.png", dpi=100, facecolor="white")
